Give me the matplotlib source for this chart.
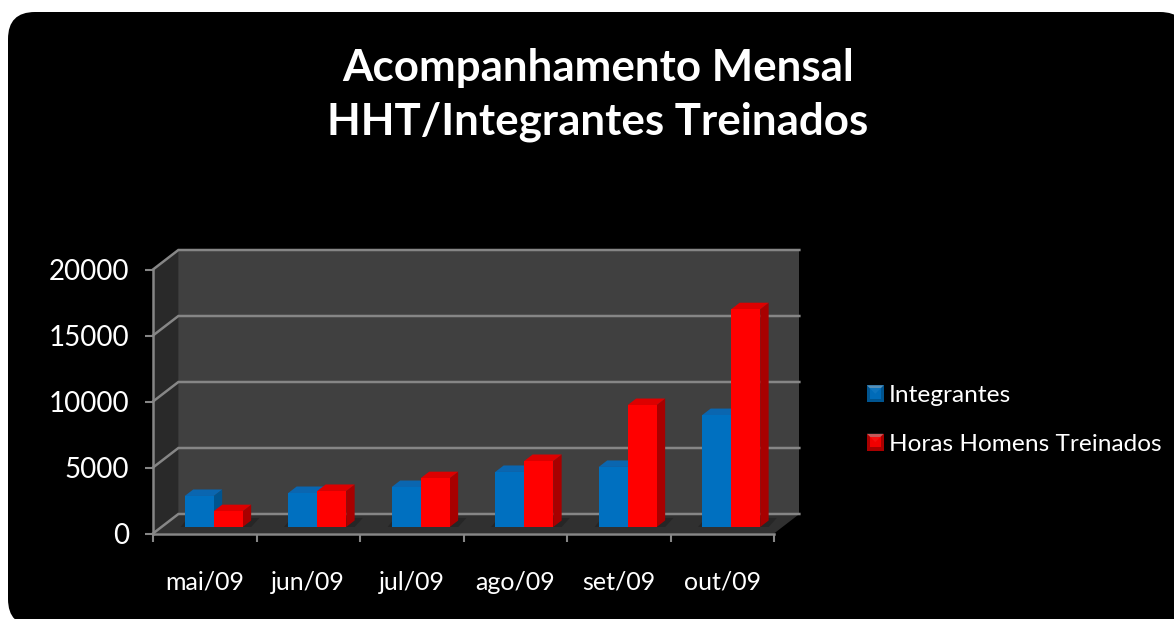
import matplotlib
matplotlib.use('Agg')
import matplotlib.pyplot as plt
from matplotlib.patches import FancyBboxPatch, Polygon, Patch
from matplotlib.legend_handler import HandlerBase
from matplotlib.transforms import ScaledTranslation

W, H = 1174, 619

meses = ['mai/09', 'jun/09', 'jul/09', 'ago/09', 'set/09', 'out/09']
integrantes = [2350, 2575, 3030, 4170, 4550, 8480]
horas = [1200, 2730, 3700, 5000, 9240, 16500]
yticks = [0, 5000, 10000, 15000, 20000]

plt.rcParams['font.family'] = ['Lato', 'DejaVu Sans']

# depth of the fake 3d box, in data units
DX = 0.245
DY = 1477
GRID = '#868686'

fig = plt.figure(figsize=(W / 100, H / 100), dpi=100, facecolor='white')

# rounded black background, runs off the right and bottom edges
bg = fig.add_axes([0, 0, 1, 1])
bg.set_xlim(0, W)
bg.set_ylim(H, 0)
bg.axis('off')
bg.add_patch(FancyBboxPatch((35, 39), 1187 - 8 - 54, 626 - 12 - 54,
                            boxstyle='round,pad=27,rounding_size=27',
                            fc='black', ec='none'))

ax = fig.add_axes([153 / W, 1 - 533.5 / H, 621 / W, 264 / H], facecolor='none')
ax.set_xlim(0, 6)
ax.set_ylim(0, 20000)


def wall(pts, color, z):
    ax.add_patch(Polygon(pts, closed=True, fc=color, ec='none', zorder=z, clip_on=False))


# walls and floor
wall([(DX, DY), (6 + DX, DY), (6 + DX, 20000 + DY), (DX, 20000 + DY)], '#404040', 1)
wall([(0, 0), (DX, DY), (DX, 20000 + DY), (0, 20000)], '#292929', 1)
wall([(0, 0), (6, 0), (6 + DX, DY), (DX, DY)], '#303030', 1)

# gridlines run back along the side wall, then across the back wall
for v in yticks:
    ax.plot([0, DX, 6 + DX], [v, v + DY, v + DY], color=GRID, lw=1.8, zorder=2,
            clip_on=False, solid_joinstyle='miter')


def bar3d(xs, vals, width, front, top, side):
    # bars stand a third of the way into the box
    ox, oy = DX / 3, DY / 3
    d = DX / 3
    dy = DY / 3
    shift = ScaledTranslation(ox * 621 / 6 / 100, 0, fig.dpi_scale_trans)
    for x, v in zip(xs, vals):
        x0 = x + ox
        x1 = x0 + width
        # soft shadow on the floor
        wall([(x0 - 0.04, oy), (x1 + d, oy), (x1 + d + 0.08, oy + dy * 1.4), (x0 + 0.03, oy + dy * 1.4)],
             '#262626', 2.5)
        wall([(x1, oy), (x1 + d, oy + dy), (x1 + d, oy + v + dy), (x1, oy + v)], side, 3)
        wall([(x0, oy + v), (x0 + d, oy + v + dy), (x1 + d, oy + v + dy), (x1, oy + v)], top, 3)
    return ax.bar(xs, vals, width=width, bottom=oy, align='edge', color=front,
                  zorder=4, clip_on=False, transform=ax.transData + shift)


bw = 0.28
gap = 0.225
pos = range(len(meses))
b1 = bar3d([i + gap for i in pos], integrantes, bw, '#0070c0', '#0a66b0', '#00548f')
b2 = bar3d([i + gap + bw for i in pos], horas, bw, '#ff0000', '#dd0000', '#a80000')

for s in ['top', 'right']:
    ax.spines[s].set_visible(False)
for s in ['left', 'bottom']:
    ax.spines[s].set_color(GRID)
    ax.spines[s].set_linewidth(1.8)
    ax.spines[s].set_zorder(6)

ax.set_yticks(yticks)
ax.set_xticks(range(7))
ax.set_xticklabels([])
ax.set_xticks([i + 0.5 for i in pos], minor=True)
ax.set_xticklabels(meses, minor=True)
ax.tick_params(axis='x', which='major', length=6, width=1.5, color=GRID)
ax.tick_params(axis='x', which='minor', length=0, pad=27, labelsize=18, labelcolor='white')
ax.tick_params(axis='y', length=6, width=1.5, color=GRID, pad=11, labelsize=20, labelcolor='white')


class Bevel(HandlerBase):
    def create_artists(self, legend, orig, xd, yd, w, h, fontsize, trans):
        c = orig.get_facecolor()
        edge = orig.get_edgecolor()
        x0, y0 = -xd, -yd
        m = 2.2
        return [
            Polygon([(x0, y0), (x0 + w, y0), (x0 + w, y0 + h), (x0, y0 + h)], fc=edge, ec='none', transform=trans),
            Polygon([(x0, y0 + h), (x0 + w, y0 + h), (x0 + w / 2, y0 + h / 2)], fc='#ffffff', ec='none',
                    alpha=0.35, transform=trans),
            Polygon([(x0 + m, y0 + m), (x0 + w - m, y0 + m), (x0 + w - m, y0 + h - m), (x0 + m, y0 + h - m)],
                    fc=c, ec='none', alpha=0.85, transform=trans),
        ]


h1 = Patch(fc='#0070c0', ec='#00548f', label='Integrantes')
h2 = Patch(fc='#ff0000', ec='#a80000', label='Horas Homens Treinados')
leg = fig.legend(handles=[h1, h2], handler_map={Patch: Bevel()}, loc='center left',
                 bbox_to_anchor=(845 / W, 1 - 420 / H), frameon=False, fontsize=17.6,
                 labelcolor='white', handlelength=0.68, handleheight=0.68, handletextpad=0.2,
                 labelspacing=1.12)

fig.text(598 / W, 1 - 95 / H, 'Acompanhamento Mensal\nHHT/Integrantes Treinados', ha='center', va='center',
         color='white', fontsize=31.6, fontweight='bold', linespacing=1.42)

fig.savefig('out.png', dpi=100, facecolor='white')
